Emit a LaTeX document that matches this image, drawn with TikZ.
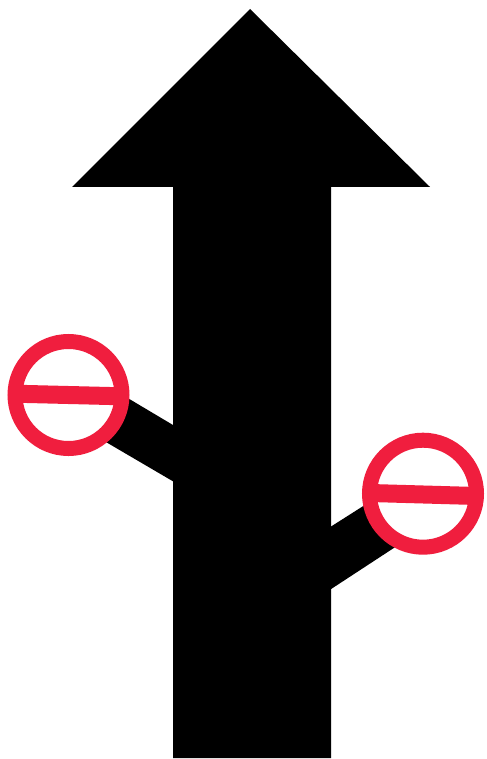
\documentclass[tikz,border=0pt]{standalone}
\definecolor{stopred}{RGB}{240,30,62}
\tikzset{
  stopring/.style={draw=stopred, line width=11.25pt, fill=white},
  stopbar/.style={draw=stopred, line width=13.5pt}
}
\begin{document}
\begin{tikzpicture}[x=1pt,y=-1pt,scale=0.75]

% Page
\useasboundingbox (0,0) rectangle (486,759);
\fill[white] (0,0) rectangle (486,759);

% Main arrow
\fill[black] (250,9) -- (430,187) -- (331,187) -- (331,758) -- (173,758) -- (173,187) -- (72,187) -- cycle;

% Side branches
\fill[black] (110,387.5) -- (175,426.2) -- (175,482.5) -- (90,432.7) -- cycle;
\fill[black] (385,492.2) -- (329,527.8) -- (329,590.4) -- (410,537.4) -- cycle;

% Left stop sign
\draw[stopring] (68.5,395) circle (53.5);
\draw[stopbar] (19,393.8) -- (118,396.2);

% Right stop sign
\draw[stopring] (423,493.7) circle (53.5);
\draw[stopbar] (374,493.1) -- (473,495.9);

\end{tikzpicture}
\end{document}
